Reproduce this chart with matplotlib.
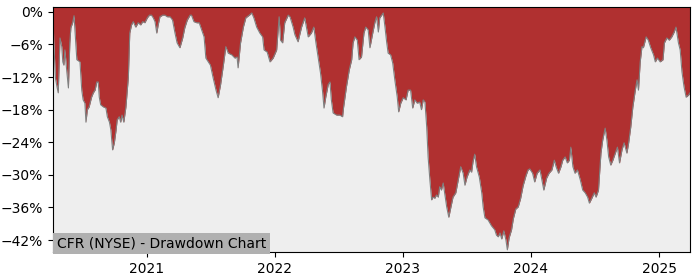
import numpy as np
import pandas as pd
import matplotlib
matplotlib.use("Agg")
import matplotlib.pyplot as plt
import matplotlib.dates as mdates
from matplotlib.ticker import FuncFormatter

title = "CFR (NYSE) - Drawdown Chart"

dates = [
    "2020-04-08", "2020-04-10", "2020-04-15", "2020-04-20", "2020-04-23", "2020-04-28",
    "2020-05-03", "2020-05-06", "2020-05-09", "2020-05-12", "2020-05-17", "2020-05-22",
    "2020-05-26", "2020-05-29", "2020-06-03", "2020-06-07", "2020-06-11", "2020-06-15",
    "2020-06-24", "2020-06-29", "2020-07-03", "2020-07-08", "2020-07-11", "2020-07-15",
    "2020-07-20", "2020-07-27", "2020-08-01", "2020-08-06", "2020-08-11", "2020-08-15",
    "2020-08-18", "2020-08-22", "2020-08-30", "2020-09-06", "2020-09-10", "2020-09-16",
    "2020-09-20", "2020-09-25", "2020-09-30", "2020-10-05", "2020-10-08", "2020-10-14",
    "2020-10-18", "2020-10-22", "2020-10-27", "2020-11-02", "2020-11-09", "2020-11-13",
    "2020-11-18", "2020-11-23", "2020-11-30", "2020-12-07", "2020-12-14", "2020-12-20",
    "2020-12-26",
    "2021-01-02", "2021-01-08", "2021-01-14", "2021-01-19", "2021-01-24", "2021-01-29",
    "2021-02-02", "2021-02-07", "2021-02-15", "2021-02-21", "2021-02-28", "2021-03-08",
    "2021-03-15", "2021-03-22", "2021-03-28", "2021-04-05", "2021-04-13", "2021-04-19",
    "2021-04-26", "2021-05-04", "2021-05-08", "2021-05-15", "2021-05-23", "2021-05-30",
    "2021-06-06", "2021-06-13", "2021-06-18", "2021-06-25", "2021-07-01", "2021-07-09",
    "2021-07-17", "2021-07-23", "2021-07-30", "2021-08-07", "2021-08-14", "2021-08-21",
    "2021-08-31", "2021-09-09", "2021-09-15", "2021-09-18", "2021-09-25", "2021-10-03",
    "2021-10-10", "2021-10-20", "2021-10-27", "2021-11-02", "2021-11-10", "2021-11-19",
    "2021-11-27", "2021-12-01", "2021-12-10", "2021-12-18", "2021-12-27",
    "2022-01-06", "2022-01-13", "2022-01-17", "2022-01-23", "2022-01-29", "2022-02-08",
    "2022-02-13", "2022-02-22", "2022-02-27", "2022-03-08", "2022-03-18", "2022-03-27",
    "2022-04-06", "2022-04-15", "2022-04-22", "2022-04-28", "2022-05-04", "2022-05-11",
    "2022-05-17", "2022-05-21", "2022-05-26", "2022-06-02", "2022-06-07", "2022-06-11",
    "2022-06-16", "2022-06-26", "2022-07-05", "2022-07-13", "2022-07-16", "2022-07-24",
    "2022-08-01", "2022-08-08", "2022-08-12", "2022-08-17", "2022-08-24", "2022-08-29",
    "2022-09-05", "2022-09-12", "2022-09-17", "2022-09-24", "2022-09-29", "2022-10-07",
    "2022-10-13", "2022-10-18", "2022-10-23", "2022-10-27", "2022-11-06", "2022-11-11",
    "2022-11-16", "2022-11-20", "2022-11-27", "2022-12-03", "2022-12-09", "2022-12-16",
    "2022-12-20", "2022-12-26",
    "2023-01-02", "2023-01-10", "2023-01-16", "2023-01-23", "2023-01-29", "2023-02-04",
    "2023-02-11", "2023-02-18", "2023-02-23", "2023-02-28", "2023-03-05", "2023-03-10",
    "2023-03-14", "2023-03-19", "2023-03-24", "2023-03-28", "2023-04-02", "2023-04-07",
    "2023-04-12", "2023-04-16", "2023-04-21", "2023-04-26", "2023-04-30", "2023-05-06",
    "2023-05-12", "2023-05-18", "2023-05-24", "2023-06-01", "2023-06-08", "2023-06-15",
    "2023-06-22", "2023-06-27", "2023-07-03", "2023-07-11", "2023-07-16", "2023-07-20",
    "2023-07-25", "2023-07-30", "2023-08-07", "2023-08-14", "2023-08-18", "2023-08-23",
    "2023-09-01", "2023-09-11", "2023-09-20", "2023-09-25", "2023-09-30", "2023-10-05",
    "2023-10-10", "2023-10-16", "2023-10-22", "2023-10-26", "2023-10-31", "2023-11-07",
    "2023-11-12", "2023-11-19", "2023-11-26", "2023-12-03", "2023-12-10", "2023-12-18",
    "2023-12-24", "2023-12-29",
    "2024-01-06", "2024-01-12", "2024-01-19", "2024-01-27", "2024-01-31", "2024-02-07",
    "2024-02-15", "2024-02-22", "2024-03-01", "2024-03-08", "2024-03-13", "2024-03-20",
    "2024-03-27", "2024-04-01", "2024-04-08", "2024-04-14", "2024-04-20", "2024-04-24",
    "2024-04-30", "2024-05-06", "2024-05-13", "2024-05-21", "2024-05-28", "2024-06-04",
    "2024-06-11", "2024-06-16", "2024-06-23", "2024-06-30", "2024-07-05", "2024-07-12",
    "2024-07-19", "2024-07-24", "2024-07-31", "2024-08-05", "2024-08-10", "2024-08-16",
    "2024-08-22", "2024-08-29", "2024-09-04", "2024-09-10", "2024-09-17", "2024-09-23",
    "2024-10-01", "2024-10-06", "2024-10-12", "2024-10-18", "2024-10-25", "2024-10-30",
    "2024-11-03", "2024-11-08", "2024-11-13", "2024-11-17", "2024-11-25", "2024-12-01",
    "2024-12-08", "2024-12-16", "2024-12-21", "2024-12-27",
    "2025-01-04", "2025-01-12", "2025-01-16", "2025-01-23", "2025-01-30", "2025-02-06",
    "2025-02-13", "2025-02-18", "2025-02-25", "2025-03-02", "2025-03-07", "2025-03-13",
    "2025-03-19", "2025-03-26", "2025-03-30",
]

drawdown = [
    0.0, -5.2, -12.2, -14.0, -14.9, -4.8,
    -6.4, -9.2, -9.8, -7.0, -10.7, -14.0,
    -5.7, -2.9, -2.0, -0.7, -4.6, -8.8,
    -9.2, -14.4, -16.2, -16.8, -20.3, -18.0,
    -17.5, -15.7, -14.9, -14.4, -12.9, -12.9,
    -15.7, -17.1, -17.5, -17.7, -19.3, -20.3,
    -21.7, -25.4, -24.1, -21.7, -19.9, -19.3,
    -20.3, -19.0, -20.3, -17.5, -12.0, -3.9,
    -2.4, -1.8, -2.8, -2.0, -2.4, -1.8,
    -2.0,
    -1.1, -0.6, -0.6, -1.1, -1.8, -3.9,
    -2.4, -0.9, -0.6, -0.6, -0.9, -0.9,
    -1.5, -3.9, -5.7, -6.6, -4.8, -2.9,
    -1.5, -0.6, -0.6, -1.8, -2.0, -2.0,
    -3.3, -4.6, -8.5, -9.2, -9.8, -12.2,
    -14.4, -15.8, -13.4, -9.8, -6.4, -7.6,
    -7.9, -8.5, -8.3, -10.3, -5.7, -2.8,
    -1.1, -0.6, -0.2, -1.1, -2.8, -3.9,
    -4.6, -7.0, -7.4, -9.2, -8.5,
    -7.0, -0.9, -5.2, -5.7, -2.0, -0.6,
    -0.9, -2.8, -4.2, -5.5, -2.8, -1.1,
    -4.6, -3.9, -2.8, -5.7, -8.3, -11.2,
    -14.7, -17.7, -15.7, -13.4, -12.9, -16.2,
    -18.6, -19.0, -19.0, -19.3, -17.5, -13.8,
    -10.7, -8.8, -5.7, -4.6, -5.2, -8.8,
    -8.3, -3.9, -2.8, -3.3, -6.6, -3.9,
    -2.0, -0.9, -3.7, -1.1, -0.2, -2.8,
    -5.7, -7.6, -7.9, -9.4, -12.5, -15.7,
    -18.4, -16.8,
    -15.8, -16.2, -14.4, -14.4, -17.7, -16.2,
    -16.8, -16.6, -18.0, -16.2, -16.6, -21.2,
    -26.7, -30.9, -34.6, -34.1, -34.3, -33.7,
    -34.1, -32.2, -32.8, -31.5, -33.3, -35.9,
    -37.8, -35.9, -34.1, -33.3, -30.9, -28.5,
    -29.7, -31.9, -30.4, -29.1, -29.5, -27.6,
    -26.2, -28.5, -30.4, -33.3, -35.9, -37.9,
    -38.3, -39.4, -40.1, -41.1, -41.4, -40.7,
    -41.8, -40.3, -42.0, -43.8, -41.6, -40.1,
    -38.1, -36.3, -35.9, -34.3, -32.0, -30.2,
    -29.1, -28.9,
    -29.7, -31.3, -29.7, -29.1, -30.4, -32.8,
    -30.6, -29.7, -29.1, -27.3, -28.5, -29.7,
    -28.5, -27.3, -26.7, -27.8, -27.3, -24.9,
    -28.5, -29.7, -29.1, -30.9, -32.8, -33.3,
    -34.1, -35.2, -34.3, -33.3, -34.1, -32.8,
    -26.0, -23.6, -21.4, -23.6, -26.7, -28.2,
    -27.3, -26.0, -24.9, -27.8, -25.4, -24.1,
    -26.0, -24.1, -21.2, -17.5, -14.4, -12.5,
    -14.4, -9.2, -6.4, -6.6, -4.6, -5.2,
    -6.6, -7.9, -9.2, -8.5,
    -9.2, -8.8, -5.7, -4.8, -5.2, -4.6,
    -3.7, -2.8, -5.7, -7.0, -11.0, -13.8,
    -15.7, -15.3, -14.9,
]

yticks = [-42, -36, -30, -24, -18, -12, -6, 0]

x = pd.to_datetime(dates)
y = np.array(drawdown)
ytop = 0.9

fig = plt.figure(figsize=(7, 2.8), dpi=100)
ax = fig.add_axes([0.0757, 0.1, 0.91, 0.875])
ax.set_facecolor("#eeeeee")

# red area hangs from the top edge down to the drawdown line
ax.fill_between(x, y, ytop, color="#b03030", linewidth=0)
ax.plot(x, y, color="#808080", linewidth=0.8)

ax.set_xlim(x[0], x[-1])
ax.set_ylim(-44.2, ytop)
ax.set_yticks(yticks)
ax.yaxis.set_major_formatter(FuncFormatter(lambda v, p: f"{v:.0f}%".replace("-", "\u2212")))
ax.xaxis.set_major_locator(mdates.YearLocator())
ax.xaxis.set_major_formatter(mdates.DateFormatter("%Y"))
ax.tick_params(labelsize=10)

ax.text(0.006, 0.006, title, transform=ax.transAxes, fontsize=10,
        ha="left", va="bottom",
        bbox=dict(facecolor="#b0b0b0", edgecolor="none", pad=2.5))

fig.savefig("out.png", dpi=100)
